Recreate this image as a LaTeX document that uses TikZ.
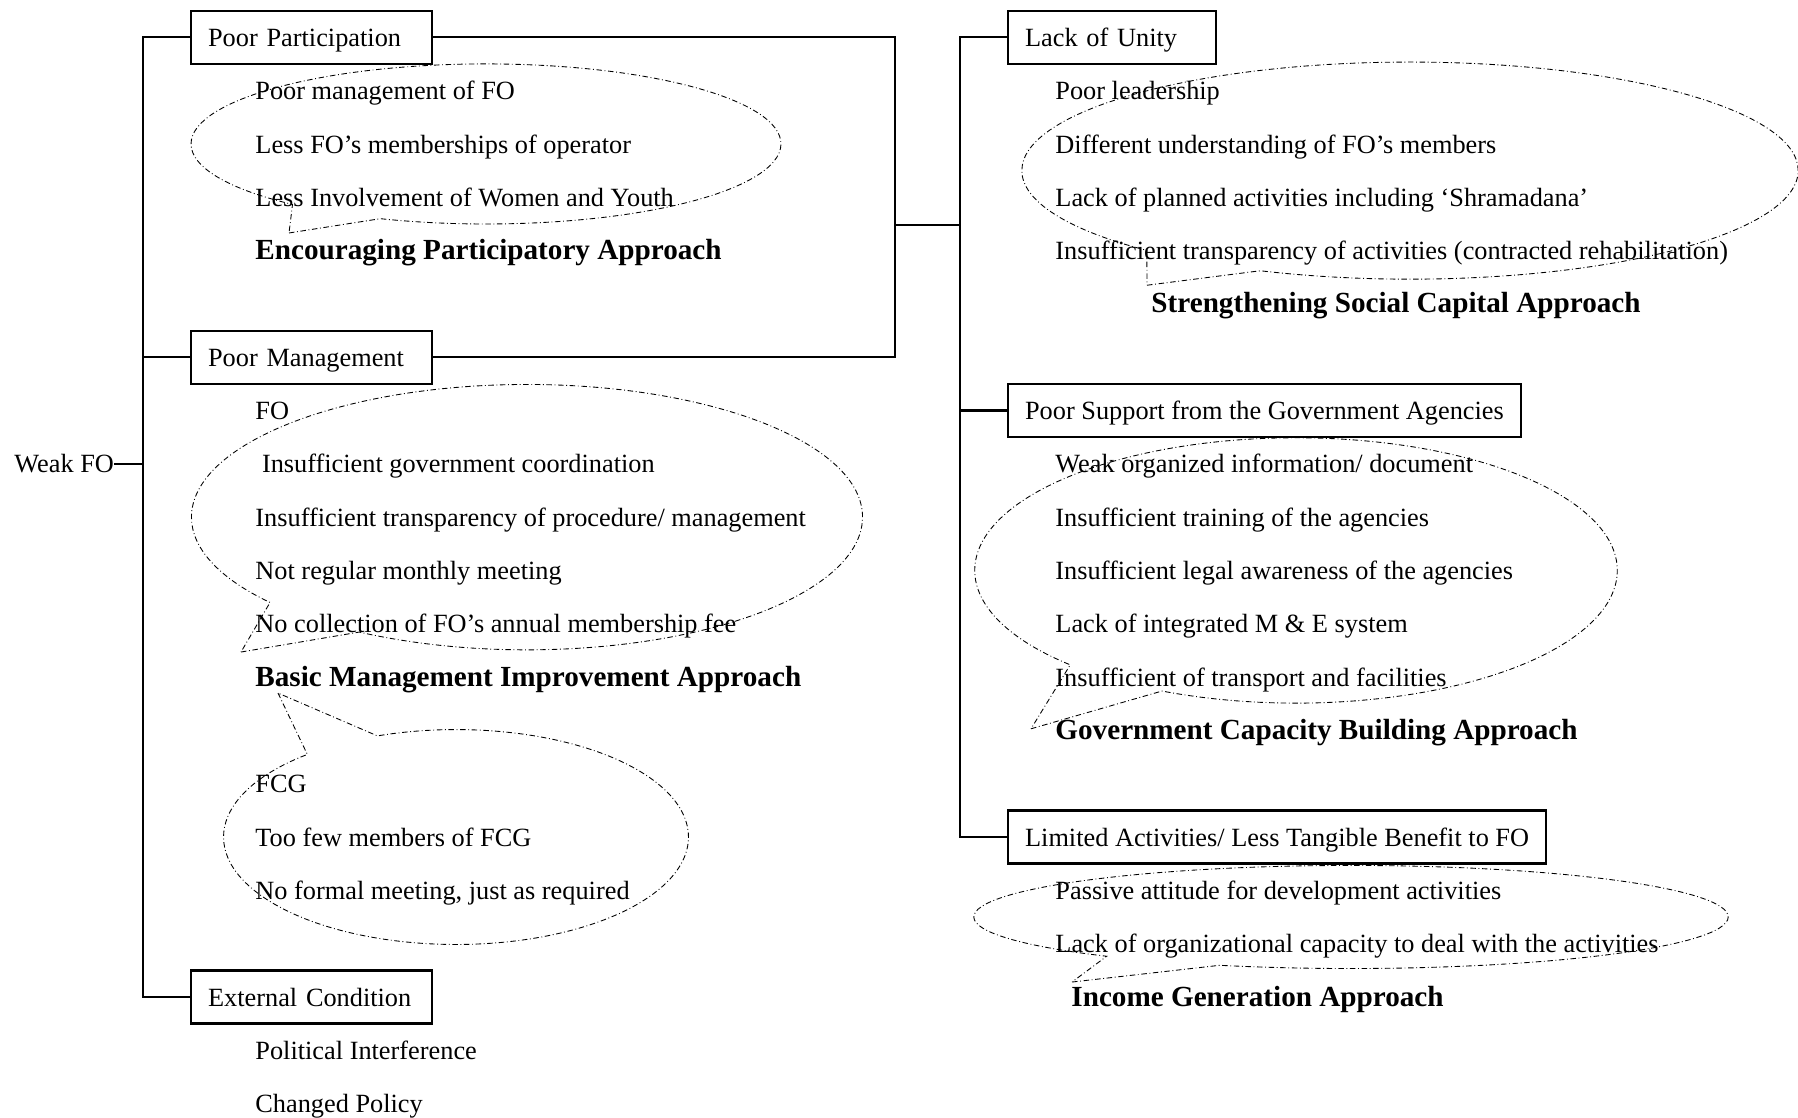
\documentclass[tikz,border=0pt]{standalone}
\usepackage{fontspec}
\setmainfont{Liberation Serif}
\usetikzlibrary{shapes.callouts}

\begin{document}
\begin{tikzpicture}[x=0.456pt, y=-24.31pt, font=\fontsize{12}{14}\selectfont,
  cause/.style={draw, line width=1pt, anchor=west, inner xsep=7.75pt, inner ysep=0pt, minimum height=24.2pt, text height=1.0em, text depth=0.17em},
  item/.style={anchor=west, inner sep=0pt, text height=1.0em, text depth=0.17em},
  approach/.style={item, font=\fontsize{13.3}{16}\selectfont\bfseries},
  bubble/.style={ellipse callout, draw, line width=0.4pt, dash pattern=on 2.5pt off 1.2pt on 0.4pt off 1.2pt, inner sep=0pt, callout pointer arc=20},
  link/.style={line width=1pt}]
\useasboundingbox (0,-0.70) rectangle (1798,20.27);

% callouts
\node (b1) at (486,2) [bubble, minimum width=269pt, minimum height=73pt, callout absolute pointer={(289,3.67)}] {};
\node (b2) at (527,9) [bubble, minimum width=306pt, minimum height=121pt, callout absolute pointer={(241,11.53)}] {};
\node (b3) at (456,15) [bubble, minimum width=212pt, minimum height=98pt, callout absolute pointer={(278,12.30)}] {};
\node (b4) at (1410,2.5) [bubble, minimum width=354pt, minimum height=99pt, callout absolute pointer={(1147,4.65)}] {};
\node (b5) at (1296,10) [bubble, minimum width=293pt, minimum height=121pt, callout absolute pointer={(1031,12.97)}] {};
\node (b6) at (1351,16.5) [bubble, minimum width=344pt, minimum height=47pt, callout absolute pointer={(1072,17.72)}] {};

% causes
\node (weak) at (14,8) [item] {Weak FO};
\node (pp) at (190,0) [cause, text width=94.4pt, align=left] {Poor Participation};
\node (pm) at (190,6) [cause, text width=94.4pt, align=left] {Poor Management};
\node (ec) at (190,18) [cause, text width=94.4pt, align=left] {External Condition};
\node (lu) at (1007,0) [cause, text width=79.3pt, align=left] {Lack of Unity};
\node (ps) at (1007,7) [cause] {Poor Support from the Government Agencies};
\node (la) at (1007,15) [cause] {Limited Activities/ Less Tangible Benefit to FO};

% left items
\node (pp1) at (255,1) [item] {Poor management of FO};
\node (pp2) at (255,2) [item] {Less FO’s memberships of operator};
\node (pp3) at (255,3) [item] {Less Involvement of Women and Youth};
\node (epa) at (255,4) [approach] {Encouraging Participatory Approach};
\node (pm1) at (255,7) [item] {FO};
\node (pm2) at (255,8) [item] {\ Insufficient government coordination};
\node (pm3) at (255,9) [item] {Insufficient transparency of procedure/ management};
\node (pm4) at (255,10) [item] {Not regular monthly meeting};
\node (pm5) at (255,11) [item] {No collection of FO’s annual membership fee};
\node (bmi) at (255,12) [approach] {Basic Management Improvement Approach};
\node (pm6) at (255,14) [item] {FCG};
\node (pm7) at (255,15) [item] {Too few members of FCG};
\node (pm8) at (255,16) [item] {No formal meeting, just as required};
\node (ec1) at (255,19) [item] {Political Interference};
\node (ec2) at (255,20) [item] {Changed Policy};

% right items
\node (lu1) at (1055,1) [item] {Poor leadership};
\node (lu2) at (1055,2) [item] {Different understanding of FO’s members};
\node (lu3) at (1055,3) [item] {Lack of planned activities including ‘Shramadana’};
\node (lu4) at (1055,4) [item] {Insufficient transparency of activities (contracted rehabilitation)};
\node (ssc) at (1151,5) [approach] {Strengthening Social Capital Approach};
\node (ps1) at (1055,8) [item] {Weak organized information/ document};
\node (ps2) at (1055,9) [item] {Insufficient training of the agencies};
\node (ps3) at (1055,10) [item] {Insufficient legal awareness of the agencies};
\node (ps4) at (1055,11) [item] {Lack of integrated M \& E system};
\node (ps5) at (1055,12) [item] {Insufficient of transport and facilities};
\node (gcb) at (1055,13) [approach] {Government Capacity Building Approach};
\node (la1) at (1055,16) [item] {Passive attitude for development activities};
\node (la2) at (1055,17) [item] {Lack of organizational capacity to deal with the activities};
\node (iga) at (1071,18) [approach] {Income Generation Approach};

% connectors
\coordinate (lbot) at (143,18);
\coordinate (rjoin) at (895,3.52);
\coordinate (rbot) at (960,15);
\draw[link] (weak.east) -- (weak.east -| lbot);
\draw[link] (pp.west) -| (lbot) -- (ec.west);
\draw[link] (pm.west) -- (pm.west -| lbot);
\draw[link] (pp.east) -| (rjoin) |- (pm.east);
\draw[link] (rjoin) -- (rjoin -| rbot);
\draw[link] (lu.west) -| (rbot) -- (la.west);
\draw[link] (ps.west) -- (ps.west -| rbot);
\end{tikzpicture}
\end{document}
